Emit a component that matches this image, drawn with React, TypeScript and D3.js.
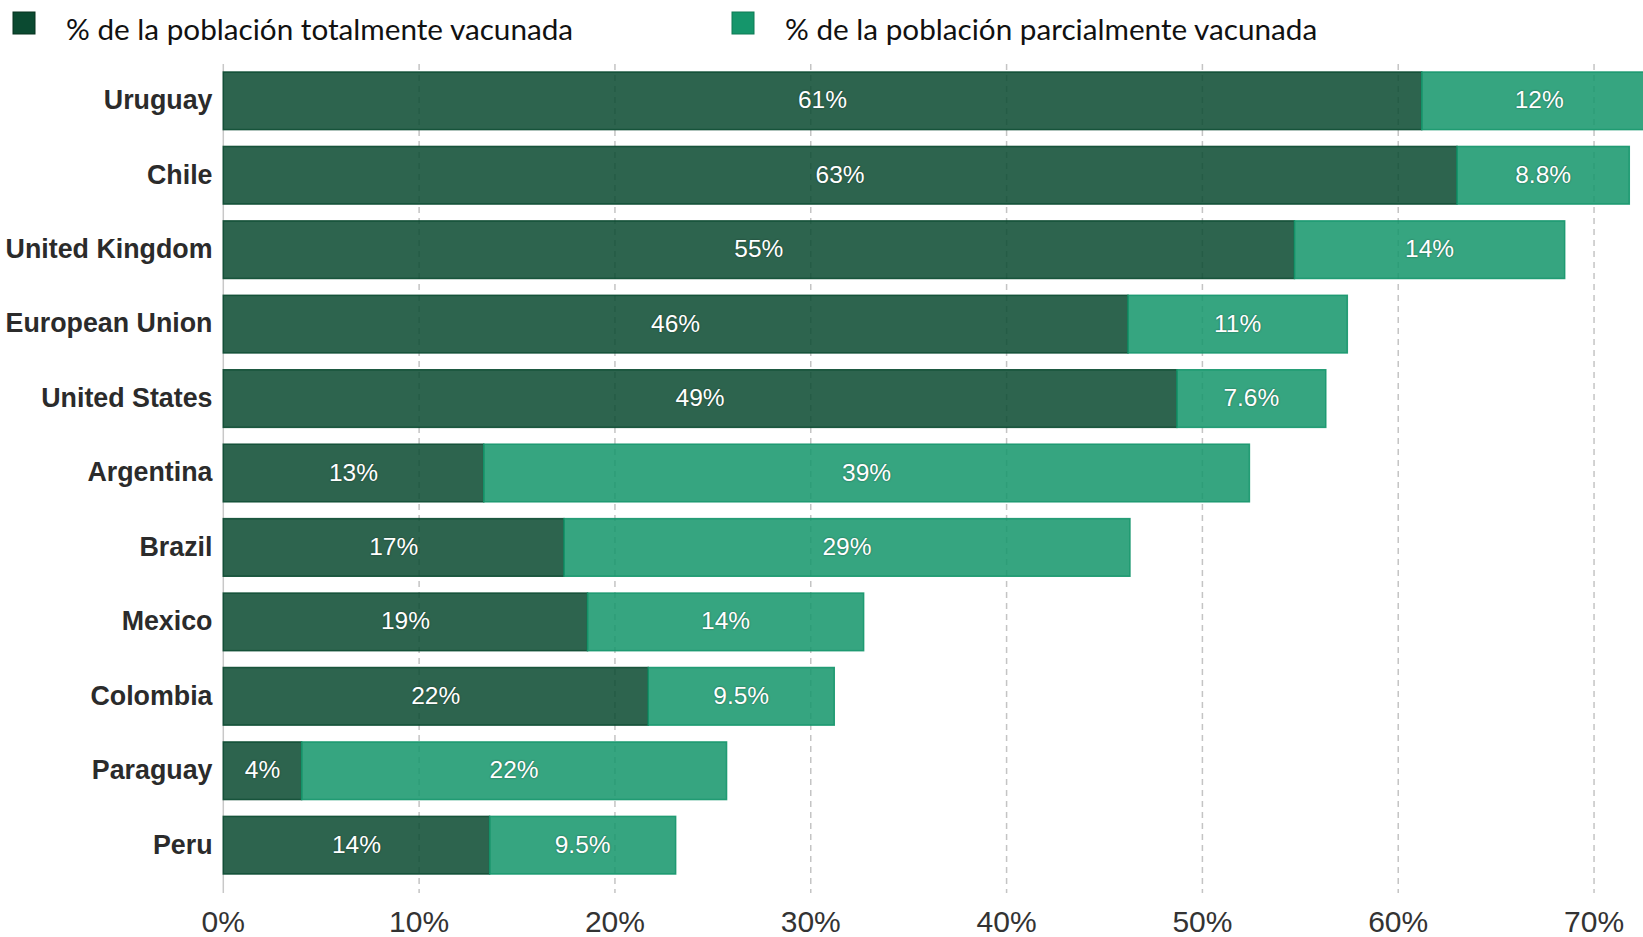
import React from "react";
import * as d3 from "d3";

const countries = [
  "Uruguay",
  "Chile",
  "United Kingdom",
  "European Union",
  "United States",
  "Argentina",
  "Brazil",
  "Mexico",
  "Colombia",
  "Paraguay",
  "Peru",
];
const fullyVaccinated = [61.2, 63.0, 54.7, 46.2, 48.7, 13.3, 17.4, 18.6, 21.7, 4.0, 13.6];
const partiallyVaccinated = [12.0, 8.8, 13.8, 11.2, 7.6, 39.1, 28.9, 14.1, 9.5, 21.7, 9.5];
const xTicks = [0, 10, 20, 30, 40, 50, 60, 70];
const legendLabels = [
  "% de la población totalmente vacunada",
  "% de la población parcialmente vacunada",
];

const W = 1643;
const H = 937;
const DARK = "#0b4a31";
const LIGHT = "#15966b";

function fmt(v: number): string {
  const r = v >= 10 ? Math.round(v) : Math.round(v * 10) / 10;
  return `${r}%`;
}

export default function App() {
  const x = d3.scaleLinear().domain([0, 72.5]).range([223.3, 1643]);
  const y = d3.scaleBand<string>().domain(countries).range([72, 874]).paddingInner(0.226).paddingOuter(0);
  const bh = y.bandwidth();
  const gridTop = 64;
  const gridBottom = 893;

  return (
    <div style={{ position: "absolute", left: 0, top: 0, width: W, height: H, background: "#fff" }}>
      <svg width={W} height={H} style={{ display: "block" }}>
        <defs>
          <clipPath id="plotClip">
            <rect x={0} y={0} width={W} height={H} />
          </clipPath>
        </defs>
        {/* legend */}
        <rect x={13} y={12} width={22} height={22} fill={DARK} stroke="#06321f" strokeWidth={1} />
        <text x={66} y={39.5} fontFamily="Lato" fontSize={29.7} fill="#111">
          {legendLabels[0]}
        </text>
        <rect x={732} y={12} width={22} height={22} fill={LIGHT} stroke="#0e7a55" strokeWidth={1} />
        <text x={785} y={39.5} fontFamily="Lato" fontSize={29.7} fill="#111">
          {legendLabels[1]}
        </text>

        {/* gridlines */}
        {xTicks.filter((t) => t > 0).map((t) => (
          <line
            key={`g${t}`}
            x1={x(t)}
            x2={x(t)}
            y1={gridTop}
            y2={gridBottom}
            stroke="#c4c4c4"
            strokeWidth={1.5}
            strokeDasharray="6,5"
          />
        ))}
        <line x1={x(0)} x2={x(0)} y1={gridTop} y2={gridBottom} stroke="#c8c8c8" strokeWidth={1.5} />

        {/* bars */}
        <g clipPath="url(#plotClip)">
          {countries.map((c, i) => {
            const y0 = y(c)!;
            const f = fullyVaccinated[i];
            const p = partiallyVaccinated[i];
            return (
              <g key={c}>
                <rect
                  x={x(0)}
                  y={y0}
                  width={x(f) - x(0)}
                  height={bh}
                  fill={DARK}
                  fillOpacity={0.86}
                  stroke={DARK}
                  strokeOpacity={0.9}
                  strokeWidth={1.5}
                />
                <rect
                  x={x(f)}
                  y={y0}
                  width={x(f + p) - x(f)}
                  height={bh}
                  fill={LIGHT}
                  fillOpacity={0.86}
                  stroke={LIGHT}
                  strokeOpacity={0.9}
                  strokeWidth={1.5}
                />
              </g>
            );
          })}
        </g>

        {/* bar labels */}
        {countries.map((c, i) => {
          const yc = y(c)! + bh / 2;
          const f = fullyVaccinated[i];
          const p = partiallyVaccinated[i];
          return (
            <g key={`l${c}`} fontFamily="Liberation Sans, Arial, sans-serif" fontSize={24.5} fill="#fff" textAnchor="middle" style={{ textShadow: "0 0 2px rgba(0,0,0,0.45)" }}>
              <text x={(x(0) + x(f)) / 2} y={yc} dy="0.31em">{fmt(f)}</text>
              <text x={(x(f) + x(f + p)) / 2} y={yc} dy="0.31em">{fmt(p)}</text>
            </g>
          );
        })}

        {/* country labels */}
        {countries.map((c) => (
          <text
            key={`c${c}`}
            x={212.5}
            y={y(c)! + bh / 2}
            dy="0.31em"
            textAnchor="end"
            fontFamily="Liberation Sans, Arial, sans-serif"
            fontWeight="bold"
            fontSize={26.8}
            fill="#2b2b2b"
          >
            {c}
          </text>
        ))}

        {/* x tick labels */}
        {xTicks.map((t) => (
          <text
            key={`t${t}`}
            x={x(t)}
            y={932}
            textAnchor="middle"
            fontFamily="Liberation Sans, Arial, sans-serif"
            fontSize={30}
            fill="#333"
          >
            {`${t}%`}
          </text>
        ))}
      </svg>
    </div>
  );
}
